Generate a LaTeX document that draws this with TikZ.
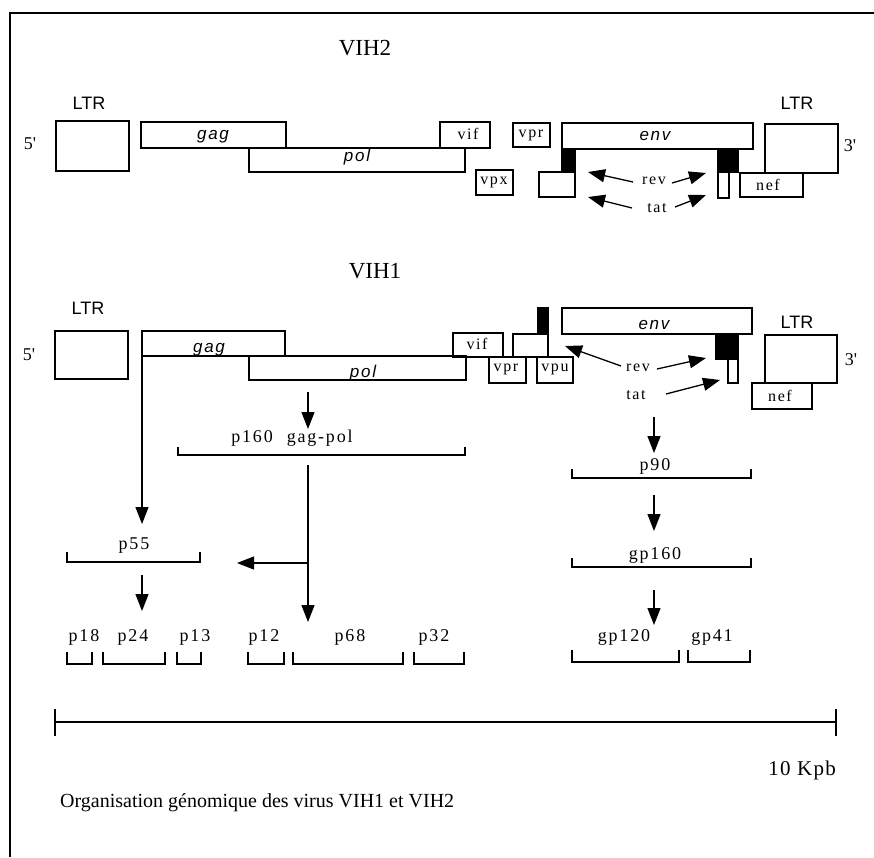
\documentclass[tikz,border=0pt]{standalone}
\usepackage{fontspec}
\setmainfont{Liberation Serif}
\newfontfamily\genefont[LetterSpace=10]{Liberation Sans}
\newfontfamily\ltrfont{Liberation Sans}
\newfontfamily\labfont[LetterSpace=10]{Liberation Serif}
\newfontfamily\kpbfont[LetterSpace=6]{Liberation Serif}
\usetikzlibrary{arrows.meta}
\newcommand\gbox[6][]{\node[gbox,#1,minimum width={#5pt-#3pt},minimum height={#6pt-#4pt}] (#2) at ({(#3+#5)/2},{(#4+#6)/2}) {};}
\newcommand\brk[4]{\draw[brk] (#1,#2) -- (#1,#3) -- (#4,#3) -- (#4,#2);}
\tikzset{
  gbox/.style={draw, line width=1.2pt, inner sep=0pt, outer sep=0pt},
  blk/.style={fill=black},
  arr/.style={line width=1.3pt, -{Triangle[length=17pt,width=13pt]}},
  brk/.style={line width=1.2pt},
  title/.style={font=\fontsize{23}{25}\selectfont, inner sep=0pt},
  ltr/.style={font=\fontsize{18}{20}\selectfont\ltrfont, inner sep=0pt},
  end/.style={font=\fontsize{18}{20}\selectfont, inner sep=0pt},
  gene/.style={font=\fontsize{17}{19}\selectfont\genefont\itshape, inner sep=0pt, anchor=base},
  small/.style={font=\fontsize{16}{18}\selectfont\labfont, inner sep=0pt},
  lab/.style={font=\fontsize{18}{20}\selectfont\labfont, inner sep=0pt},
}
\begin{document}
\begin{tikzpicture}[x=1pt,y=-1pt]
\useasboundingbox (0,0) rectangle (874,857);
% frame
\draw[line width=1.5pt] (10,857) -- (10,13) -- (874,13);

% ---------------- VIH2 ----------------
\node[title] (t2) at (365,48) {VIH2};
\node[ltr] (ltr2l) at (89,103) {LTR};
\node[ltr] (ltr2r) at (797,103) {LTR};
\node[end] (five2) at (30,144) {5\textquotesingle};
\node[end] (three2) at (850,146) {3\textquotesingle};
\gbox{ltrA2}{56}{121}{129}{171}
\gbox{gag2}{141}{122}{286}{148}
\gbox{pol2}{249}{148}{465}{172}
\gbox{vif2}{440}{122}{490}{148}
\gbox{vpr2}{513}{123}{550}{147}
\gbox{vpx2}{476}{170}{513}{195}
\gbox{env2}{562}{123}{753}{149}
\gbox[blk]{bl2}{562}{149}{575}{172}
\gbox[blk]{br2}{718}{149}{738}{172}
\gbox{wl2}{539}{172}{575}{197}
\gbox{wr2}{718}{172}{729}{198}
\gbox{nef2}{740}{173}{803}{197}
\gbox{ltrB2}{765}{124}{838}{173}
\node[gene] at (213,139) {gag};
\node[gene] at (357,161) {pol};
\node[gene] at (655,140) {env};
\node[small] at (468,134) {vif};
\node[small] at (531,135) {vpr};
\node[small] at (494,182) {vpx};
\node[small] at (768,185) {nef};
\node[small] (rev2) at (654,181) {rev};
\node[small] (tat2) at (657,208) {tat};
\coordinate (r2a) at (633,182);
\coordinate (r2at) at (588,172);
\coordinate (r2b) at (672,183);
\coordinate (r2bt) at (706,173);
\coordinate (t2a) at (632,208);
\coordinate (t2at) at (588,197);
\coordinate (t2b) at (675,207);
\coordinate (t2bt) at (706,195);
\draw[arr] (r2a) -- (r2at);
\draw[arr] (r2b) -- (r2bt);
\draw[arr] (t2a) -- (t2at);
\draw[arr] (t2b) -- (t2bt);

% ---------------- VIH1 ----------------
\node[title] (t1) at (375,271) {VIH1};
\node[ltr] (ltr1l) at (88,308) {LTR};
\node[ltr] (ltr1r) at (797,322) {LTR};
\node[end] (five1) at (29,355) {5\textquotesingle};
\node[end] (three1) at (851,360) {3\textquotesingle};
\gbox{ltrA1}{55}{331}{128}{379}
\gbox{gag1}{142}{331}{285}{356}
\gbox{pol1}{249}{356}{466}{380}
\gbox{vif1}{453}{333}{503}{357}
\gbox{tev1}{513}{334}{548}{357}
\gbox[blk]{bt1}{538}{308}{548}{334}
\gbox{vpr1}{489}{357}{526}{383}
\gbox{vpu1}{537}{357}{573}{383}
\gbox{env1}{562}{308}{752}{334}
\gbox[blk]{br1}{716}{335}{738}{359}
\gbox{wr1}{728}{359}{738}{383}
\gbox{ltrB1}{765}{335}{837}{383}
\gbox{nef1}{752}{383}{812}{409}
\draw[line width=1.2pt] (gag1.south east) -- (pol1.north west);
\node[gene] at (209,352) {gag};
\node[gene] at (363,377) {pol};
\node[gene] at (654,329) {env};
\node[small] at (477,344) {vif};
\node[small] at (506,369) {vpr};
\node[small] at (555,369) {vpu};
\node[small] at (780,396) {nef};
\node[small] (rev1) at (638,368) {rev};
\node[small] (tat1) at (636,395) {tat};
\coordinate (r1a) at (621,366);
\coordinate (r1at) at (565,346);
\coordinate (r1b) at (657,369);
\coordinate (r1bt) at (706,358);
\coordinate (t1a) at (666,394);
\coordinate (t1at) at (720,380);
\draw[arr] (r1a) -- (r1at);
\draw[arr] (r1b) -- (r1bt);
\draw[arr] (t1a) -- (t1at);

% ---------------- proteins ----------------
\coordinate (p55in) at (142,524);
\draw[arr] (gag1.south west) -- (p55in);
\coordinate (polA) at (308,392);
\coordinate (polB) at (308,429);
\draw[arr] (polA) -- (polB);
\node[lab] (p160) at (292,438) {p160\hspace{14pt}gag-pol};
\brk{178}{447}{455}{465}
\coordinate (pv0) at (308,465);
\coordinate (pv1) at (308,622);
\coordinate (pvm) at (308,563);
\coordinate (pvl) at (237,563);
\draw[arr] (pv0) -- (pv1);
\draw[arr] (pvm) -- (pvl);
\node[lab] (p55) at (134,546) {p55};
\brk{67}{552}{562}{200}
\coordinate (p55a) at (142,575);
\coordinate (p55b) at (142,611);
\draw[arr] (p55a) -- (p55b);
\node[lab] (p18) at (84,637) {p18};
\node[lab] (p24) at (133,637) {p24};
\node[lab] (p13) at (195,637) {p13};
\node[lab] (p12) at (264,637) {p12};
\node[lab] (p68) at (350,637) {p68};
\node[lab] (p32) at (434,637) {p32};
\brk{67}{652}{664}{92}
\brk{103}{652}{664}{165}
\brk{177}{652}{664}{201}
\brk{248}{652}{664}{284}
\brk{293}{652}{664}{403}
\brk{414}{652}{664}{464}

\coordinate (e0) at (654,417);
\coordinate (e1) at (654,453);
\draw[arr] (e0) -- (e1);
\node[lab] (p90) at (655,466) {p90};
\brk{572}{469}{478}{751}
\coordinate (e2) at (654,495);
\coordinate (e3) at (654,531);
\draw[arr] (e2) -- (e3);
\node[lab] (gp160) at (655,555) {gp160};
\brk{572}{558}{567}{751}
\coordinate (e4) at (654,590);
\coordinate (e5) at (654,625);
\draw[arr] (e4) -- (e5);
\node[lab] (gp120) at (624,637) {gp120};
\node[lab] (gp41) at (712,637) {gp41};
\brk{572}{650}{662}{679}
\brk{688}{650}{662}{750}

% scale
\coordinate (s0) at (55,722);
\coordinate (s1) at (836,722);
\draw[line width=1.2pt] (s0) -- (s1);
\draw[line width=1.2pt] (55,709) -- (55,736);
\draw[line width=1.2pt] (836,709) -- (836,736);
\node[font=\fontsize{21}{23}\selectfont\kpbfont, inner sep=0pt, anchor=east] (kpb) at (836,770) {10 Kpb};
\node[font=\fontsize{20}{22}\selectfont, inner sep=0pt, anchor=west] (cap) at (60,803) {Organisation génomique des virus VIH1 et VIH2};
\end{tikzpicture}
\end{document}
